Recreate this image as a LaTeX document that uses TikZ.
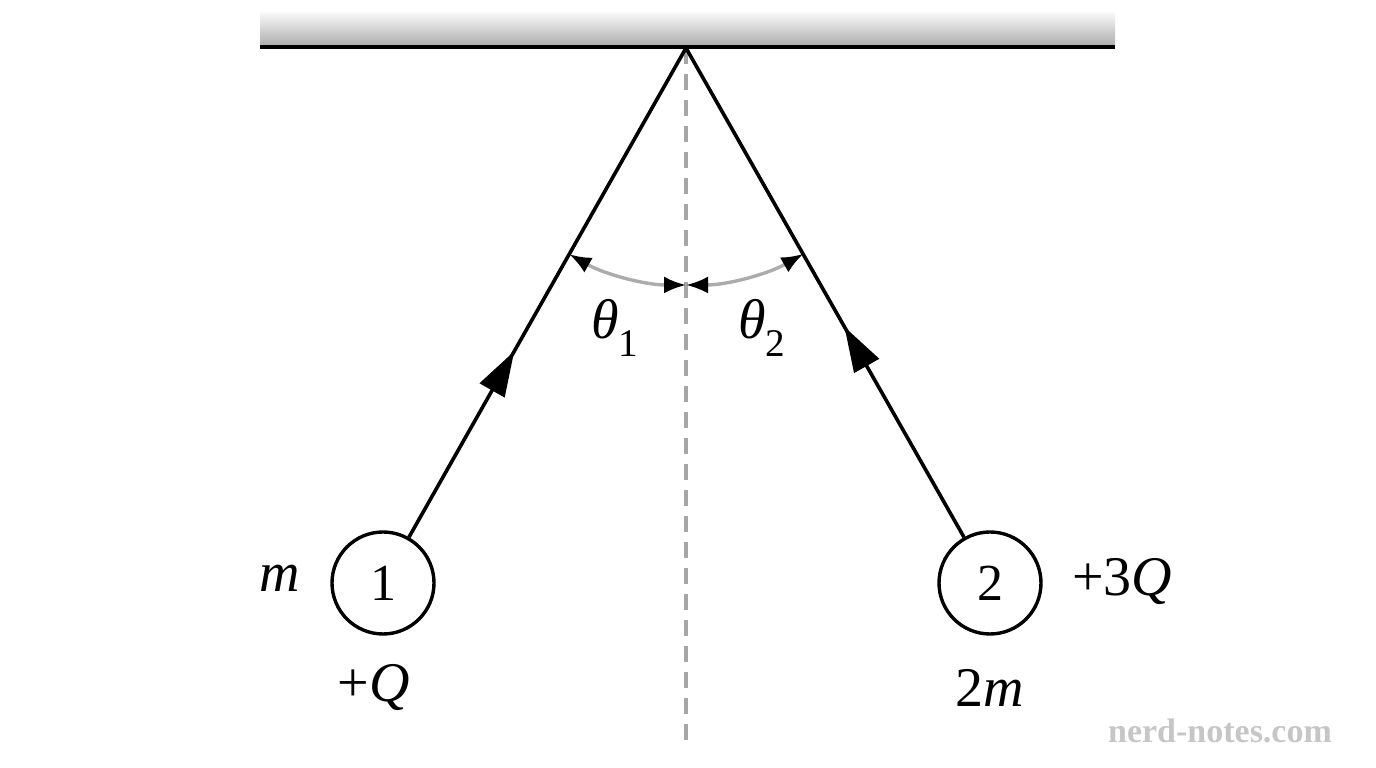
\documentclass[tikz,border=0pt]{standalone}
\usepackage{fontspec}
\setmainfont{Liberation Serif}
\usetikzlibrary{arrows.meta,decorations.markings}
\begin{document}
\begin{tikzpicture}[x=1pt,y=1pt,
  str/.style={line width=3.6pt},
  ball/.style={circle,draw,line width=3.4pt,minimum size=102pt,inner sep=0pt,font=\fontsize{52}{58}\selectfont},
  lab/.style={font=\fontsize{56}{64}\selectfont},
  ang/.style={draw=gray!65,line width=3.4pt,{Latex[length=22pt,width=17pt,black]}-{Latex[length=22pt,width=17pt,black]}},
  mid/.style={postaction={decorate},decoration={markings,mark=at position #1 with {\arrow{Triangle[length=45pt,width=28pt]}}}}]
\useasboundingbox (0,0) rectangle (1376,768);
\shade[top color=white,bottom color=gray!65] (260,758) rectangle (1115,722);
\draw[line width=4.5pt] (260,721) -- (1115,721);
\coordinate (P) at (686,720);
\node[ball] (b1) at (383,185) {1};
\node[ball] (b2) at (990,185) {2};
\draw[gray!70,line width=3.4pt,dash pattern=on 16pt off 10pt] (P) -- (686,28);
\draw[str,mid=0.38] (b1) -- (P);
\draw[str,mid=0.43] (b2) -- (P);
\draw[ang] (P) ++(-119.5:237) arc(-119.5:-90:237);
\draw[ang] (P) ++(-90:237) arc(-90:-60.3:237);
\node[lab] (t1) at (615,440) {\textit{θ}\textsubscript{1}};
\node[lab] (t2) at (762,440) {\textit{θ}\textsubscript{2}};
\node[lab] (m1) at (280,190) {\textit{m}};
\node[lab] (q1) at (374,80) {+\textit{Q}};
\node[lab] (m2) at (990,80) {2\textit{m}};
\node[lab] (q2) at (1122,186) {+3\textit{Q}};
\node[font=\fontsize{34}{40}\selectfont\bfseries,text=gray!45] (w) at (1220,37) {nerd-notes.com};
\end{tikzpicture}
\end{document}
